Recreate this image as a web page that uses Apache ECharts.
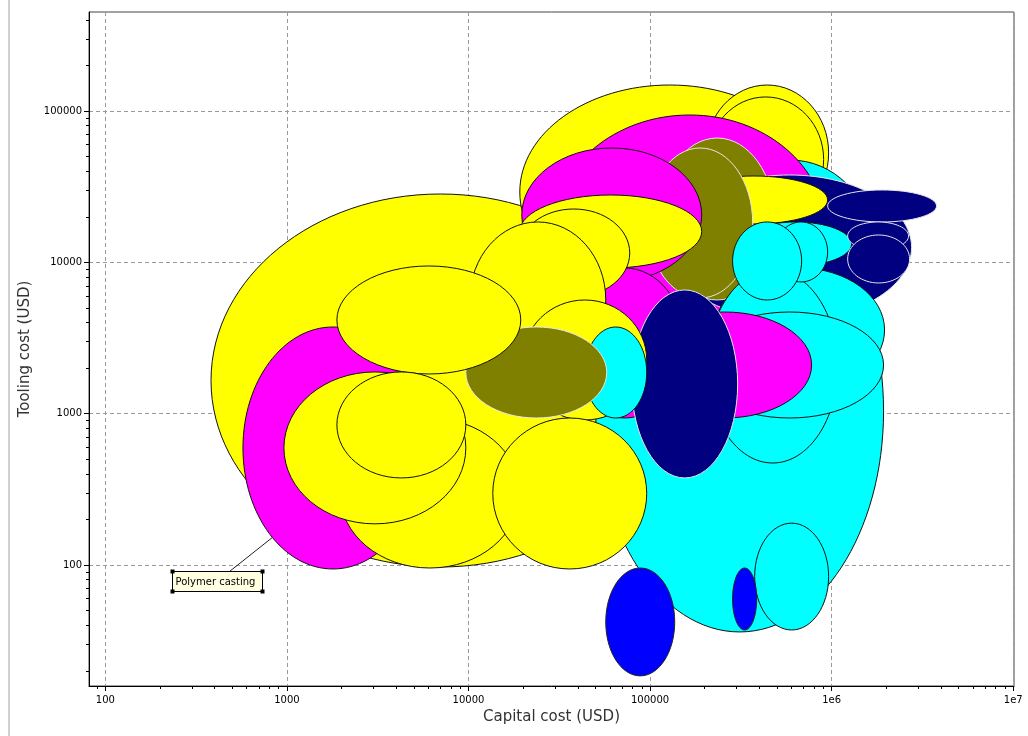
<!DOCTYPE html>
<html>
<head>
<meta charset="utf-8">
<title>Capital cost vs tooling cost</title>
<script src="https://cdn.jsdelivr.net/npm/echarts@6/dist/echarts.min.js"></script>
<style>
  html, body { margin: 0; padding: 0; background: #fff; }
  #chart { width: 1028px; height: 736px; }
</style>
</head>
<body>
<div id="chart"></div>
<script>
// Each bubble spans a capital-cost range (USD) and a tooling-cost range (USD).
// Listed back to front: later bubbles are painted over earlier ones.
const groupOf = [0, 1, 0, 0, 0, 1, 2, 3, 4, 0, 4, 2, 3, 1, 1, 1, 1, 1, 3, 3,
                 1, 2, 2, 3, 0, 0, 0, 0, 1, 4, 2, 0, 0, 0, 0, 0, 5, 1, 5];
const capitalLow = [382, 50200, 19170, 202500, 207700, 213000, 29490, 125100, 113000, 145700,
                    97070, 19660, 950400, 226900, 207700, 311500, 485700, 284700, 1225000, 1225000,
                    178400, 33910, 85530, 79260, 19170, 18690, 10170, 19910, 43690, 9669,
                    572.8, 1885, 1958, 963, 1885, 13610, 57020, 376800, 284700];
const capitalHigh = [128300, 1932000, 858900, 962500, 903500, 1619000, 926700, 2756000, 485700, 950400,
                     367400, 192500, 3783000, 1957000, 1079000, 1288000, 950400, 683600, 2653000, 2687000,
                     1932000, 155100, 775800, 303700, 192500, 77280, 57020, 95850, 95850, 57740,
                     5607, 19410, 19170, 9669, 9669, 95850, 136700, 962500, 386500];
const toolingLow = [97, 36.1, 5723, 18760, 18480, 4159, 2843, 4159, 5637, 17920,
                    5812, 7417, 18480, 1391, 472, 9459, 7417, 5637, 12060, 7304,
                    936, 936, 936, 376, 9176, 5902, 1720, 908, 936, 936,
                    94.1, 1829, 95.5, 187, 376, 94.1, 18.5, 37.2, 37.2];
const toolingHigh = [28280, 30060, 148500, 148500, 123800, 47460, 94100, 37770, 66300, 37190,
                     56960, 56960, 30060, 9176, 8901, 18480, 18480, 18480, 18480, 15160,
                     4696, 9176, 4696, 6566, 27860, 22510, 18480, 5637, 3738, 3738,
                     3738, 9459, 936, 1886, 1886, 936, 95.5, 189, 95.5];

// Labelled bubble
const calloutIndex = 30;
const calloutText = 'Polymer casting';

// Axis ticks
const capitalTicks = [100, 1000, 10000, 100000, 1e6, 1e7];
const toolingTicks = [100, 1000, 10000, 100000];
const capitalRange = [81.3, 1.01e7];
const toolingRange = [15.86, 451000];

// Minor ticks at 2..9 within each decade, kept inside the axis range
function minorTicks(range) {
  const out = [];
  for (let e = -1; e <= 8; e++) {
    for (let m = 2; m <= 9; m++) {
      const v = m * Math.pow(10, e);
      if (v > range[0] && v < range[1]) out.push(v);
    }
  }
  return out;
}
const capitalMinor = minorTicks(capitalRange);
const toolingMinor = minorTicks(toolingRange);

// Group colours
const groupFill = ['#ffff00', '#00ffff', '#ff00ff', '#000080', '#808000', '#0000ff'];
const groupStroke = ['#111111', '#111111', '#111111', '#e6e6e6', '#e6e6e6', '#222222'];

const bubbleData = groupOf.map((g, i) => [capitalLow[i], capitalHigh[i], toolingLow[i], toolingHigh[i], g]);

function ellipseBox(api) {
  const a = api.coord([api.value(0), api.value(2)]);
  const b = api.coord([api.value(1), api.value(3)]);
  return {
    cx: (a[0] + b[0]) / 2,
    cy: (a[1] + b[1]) / 2,
    rx: Math.abs(b[0] - a[0]) / 2,
    ry: Math.abs(b[1] - a[1]) / 2
  };
}

function renderBubble(params, api) {
  const g = api.value(4);
  return {
    type: 'ellipse',
    shape: ellipseBox(api),
    style: { fill: groupFill[g], stroke: groupStroke[g], lineWidth: 1 }
  };
}

// Callout: leader from the bubble edge to a small note box with corner handles
function renderCallout(params, api) {
  const e = ellipseBox(api);
  const t = 132.3 * Math.PI / 180;
  const sx = e.cx + e.rx * Math.cos(t);
  const sy = e.cy + e.ry * Math.sin(t);
  const bx = Math.round(sx - 100) + 0.5;
  const by = Math.round(sy + 34) + 0.5;
  const w = 90, h = 20;
  const handles = [[bx, by], [bx + w, by], [bx, by + h], [bx + w, by + h]].map(p => ({
    type: 'rect',
    shape: { x: p[0] - 2, y: p[1] - 2, width: 4, height: 4 },
    style: { fill: '#000' }
  }));
  return {
    type: 'group',
    children: [
      { type: 'line', shape: { x1: sx, y1: sy, x2: bx + 57, y2: by }, style: { stroke: '#222', lineWidth: 1 } },
      { type: 'rect', shape: { x: bx, y: by, width: w, height: h }, style: { fill: '#ffffe1', stroke: '#000', lineWidth: 1 } },
      { type: 'text', x: bx + 3, y: by + h / 2 + 0.5,
        style: { text: calloutText, fill: '#000', fontFamily: 'DejaVu Sans', fontSize: 10,
                 align: 'left', verticalAlign: 'middle' } }
    ].concat(handles)
  };
}

function tickText(v) {
  return v >= 1e6 ? '1e' + Math.round(Math.log10(v)) : String(Math.round(v));
}

const labelFont = { fontFamily: 'DejaVu Sans', fontSize: 10, color: '#000' };
const nameFont = { fontFamily: 'DejaVu Sans', fontSize: 15, color: '#333' };
const gridDash = { show: true, lineStyle: { color: '#9a9a9a', width: 1, type: [4, 3] } };

const chart = echarts.init(document.getElementById('chart'), null, { renderer: 'canvas' });
chart.setOption({
  animation: false,
  backgroundColor: '#ffffff',
  graphic: [
    { type: 'rect', left: 8, top: 0, shape: { width: 2, height: 736 }, style: { fill: '#d0d0d0' }, silent: true }
  ],
  grid: { left: 89, top: 12, right: 14, bottom: 50, show: true, borderColor: '#444', borderWidth: 1, backgroundColor: 'transparent' },
  xAxis: [
    {
      type: 'log', logBase: 10, min: capitalRange[0], max: capitalRange[1], position: 'bottom',
      name: 'Capital cost (USD)', nameLocation: 'middle', nameGap: 24, nameTextStyle: nameFont,
      axisLine: { show: true, lineStyle: { color: '#000', width: 1 } },
      axisTick: { show: true, length: 5, inside: false, customValues: capitalTicks, lineStyle: { color: '#000' } },
      axisLabel: Object.assign({ margin: 9, customValues: capitalTicks, formatter: tickText }, labelFont),
      splitLine: gridDash
    },
    {
      type: 'log', logBase: 10, min: capitalRange[0], max: capitalRange[1], position: 'bottom',
      axisLine: { show: false },
      axisTick: { show: true, length: 3, inside: false, customValues: capitalMinor, lineStyle: { color: '#000' } },
      axisLabel: { show: false },
      splitLine: { show: false }
    }
  ],
  yAxis: [
    {
      type: 'log', logBase: 10, min: toolingRange[0], max: toolingRange[1], position: 'left',
      name: 'Tooling cost (USD)', nameLocation: 'middle', nameGap: 47, nameTextStyle: nameFont,
      axisLine: { show: true, lineStyle: { color: '#000', width: 1 } },
      axisTick: { show: true, length: 5, inside: false, customValues: toolingTicks, lineStyle: { color: '#000' } },
      axisLabel: Object.assign({ margin: 7, customValues: toolingTicks, formatter: tickText }, labelFont),
      splitLine: gridDash
    },
    {
      type: 'log', logBase: 10, min: toolingRange[0], max: toolingRange[1], position: 'left',
      axisLine: { show: false },
      axisTick: { show: true, length: 3, inside: false, customValues: toolingMinor, lineStyle: { color: '#000' } },
      axisLabel: { show: false },
      splitLine: { show: false }
    }
  ],
  series: [
    {
      type: 'custom',
      xAxisIndex: 0, yAxisIndex: 0,
      renderItem: renderBubble,
      encode: { x: [0, 1], y: [2, 3] },
      data: bubbleData,
      silent: true,
      clip: true
    },
    {
      type: 'custom',
      xAxisIndex: 0, yAxisIndex: 0,
      renderItem: renderCallout,
      encode: { x: [0, 1], y: [2, 3] },
      data: [bubbleData[calloutIndex]],
      silent: true,
      z: 5
    }
  ]
});
</script>
</body>
</html>
